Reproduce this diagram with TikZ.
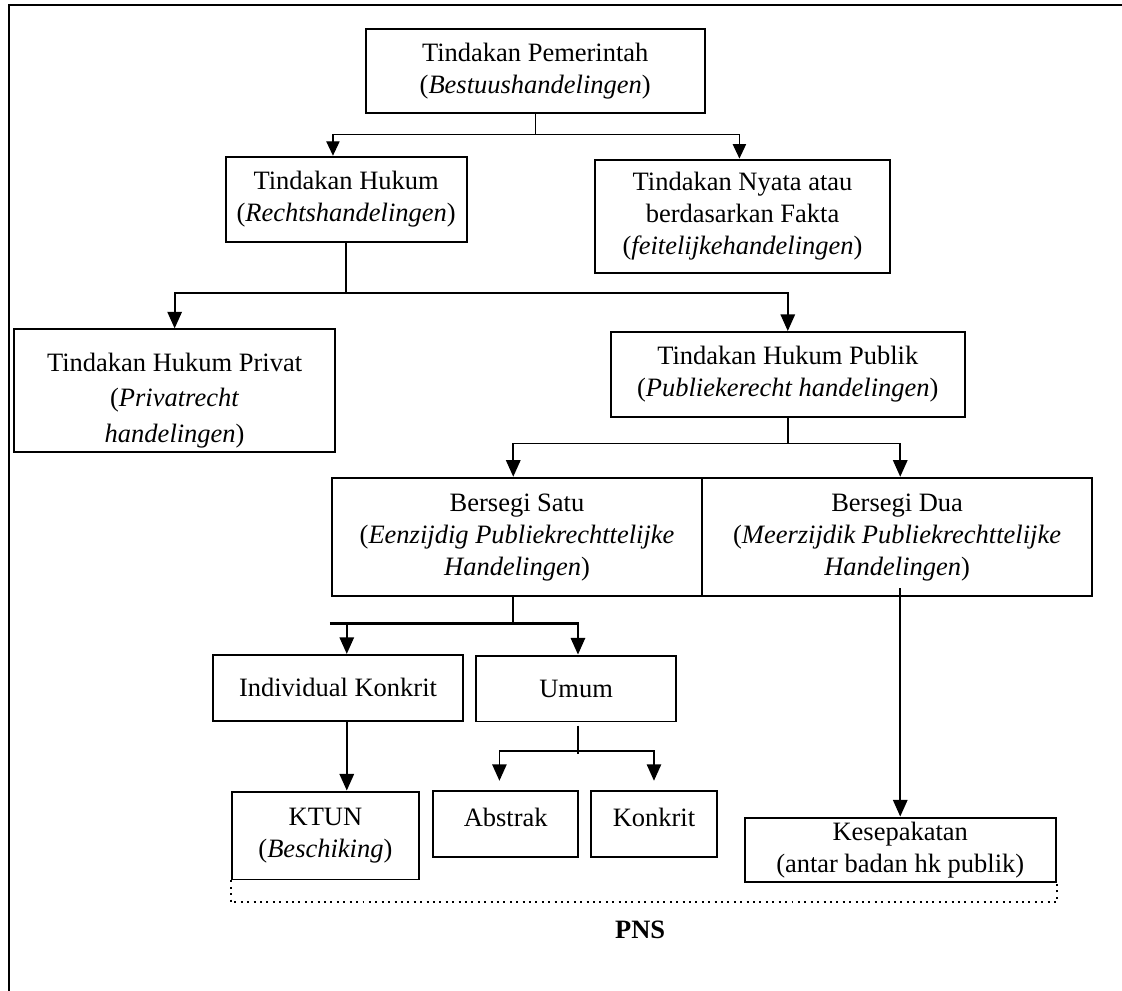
\documentclass[tikz,border=0pt,12pt]{standalone}
\usepackage{fontspec}
\setmainfont{Liberation Serif}
\usepackage{tikz}
\usetikzlibrary{arrows.meta,calc,positioning}

\begin{document}
\begin{tikzpicture}[font=\normalsize,
  box/.style={draw,line width=0.9pt,align=center,inner sep=2pt},
  arrow/.style={-{Triangle[length=7.5pt,width=6.5pt]},line width=0.8pt},
  thin arrow/.style={-{Triangle[length=6.5pt,width=6pt]},line width=0.5pt}]
  \useasboundingbox (0,0) rectangle (17.86,15.77);
  \draw[line width=0.9pt] (0.14,0) -- (0.14,15.69) -- (17.86,15.69);

  % boxes
  \node[box,minimum width=5.40cm,minimum height=1.34cm] (top) at (8.52,14.64)
    {Tindakan Pemerintah\\(\textit{Bestuushandelingen})};
  \node[box,minimum width=3.84cm,minimum height=1.35cm] (hukum) at (5.51,12.60)
    {Tindakan Hukum\\(\textit{Rechtshandelingen})};
  \node[box,minimum width=4.69cm,minimum height=1.80cm] (nyata) at (11.82,12.33)
    {Tindakan Nyata atau\\berdasarkan Fakta\\(\textit{feitelijkehandelingen})};
  \node[box,minimum width=5.11cm,minimum height=1.85cm] (privat) at (2.78,9.55)
    {\rule{0pt}{17pt}Tindakan Hukum Privat\\[1.5pt](\textit{Privatrecht}\\[1.5pt]\textit{handelingen})};
  \node[box,minimum width=5.63cm,minimum height=1.35cm] (publik) at (12.54,9.81)
    {Tindakan Hukum Publik\\(\textit{Publiekerecht handelingen})};
  \node[box,minimum width=5.89cm,minimum height=1.89cm] (satu) at (8.23,7.22)
    {Bersegi Satu\\(\textit{Eenzijdig Publiekrechttelijke}\\\textit{Handelingen})};
  \node[box,minimum width=6.21cm,minimum height=1.89cm] (dua) at (14.28,7.22)
    {Bersegi Dua\\(\textit{Meerzijdik Publiekrechttelijke}\\\textit{Handelingen})};
  \node[box,minimum width=3.98cm,minimum height=1.05cm] (ik) at (5.38,4.82) {Individual Konkrit};
  \node[box,minimum width=3.18cm,minimum height=1.05cm] (umum) at (9.17,4.81) {Umum};
  \node[box,minimum width=2.98cm,minimum height=1.40cm] (ktun) at (5.18,2.47)
    {KTUN\\(\textit{Beschiking})};
  \node[box,minimum width=2.31cm,minimum height=1.05cm] (abstrak) at (8.05,2.66) {Abstrak\\[-9pt]};
  \node[box,minimum width=2.01cm,minimum height=1.05cm] (konkrit) at (10.41,2.66) {Konkrit\\[-9pt]};
  \node[box,minimum width=4.95cm,minimum height=0.95cm] (kesep) at (14.33,2.24)
    {Kesepakatan\\(antar badan hk publik)};
  \node[font=\bfseries] (pns) at (10.19,0.97) {PNS};

  % connectors
  \draw[line width=0.5pt] (top.south) -- ++(0,-0.33) coordinate (j1);
  \draw[thin arrow] (j1) -| ([xshift=-0.21cm]hukum.north);
  \draw[thin arrow] (j1) -| ([xshift=-0.05cm]nyata.north);

  \draw[line width=0.8pt] (hukum.south) -- ++(0,-0.80) coordinate (j2);
  \draw[arrow] (j2) -| (privat.north);
  \draw[arrow] (j2) -| (publik.north);

  \draw[line width=0.8pt] (publik.south) -- ++(0,-0.41) coordinate (j3);
  \draw[arrow] (j3) -| ([xshift=-0.06cm]satu.north);
  \draw[arrow] (j3) -| ([xshift=0.05cm]dua.north);

  \draw[line width=0.8pt] ([xshift=-0.06cm]satu.south) -- ++(0,-0.41) coordinate (j4);
  \draw[line width=1.4pt] ([xshift=-0.13cm]j4 -| ik.north) -- ([xshift=0.05cm]j4 -| umum.north);
  \draw[arrow] ([xshift=0.14cm]j4 -| ik.north) -- ([xshift=0.14cm]ik.north);
  \draw[arrow] ([xshift=0.03cm]j4 -| umum.north) -- ([xshift=0.03cm]umum.north);

  \draw[line width=0.8pt] ([shift={(0.03cm,-0.05cm)}]umum.south) -- ++(0,-0.45) coordinate (j5);
  \draw[arrow,shorten >=0.14cm] ([yshift=0.05cm]j5) -| ([xshift=-0.10cm]abstrak.north);
  \draw[arrow,shorten >=0.14cm] ([yshift=0.05cm]j5) -| (konkrit.north);

  \draw[arrow] ([xshift=0.14cm]ik.south) -- ([xshift=0.14cm]ik.south |- ktun.north);
  \draw[arrow] ([shift={(0.05cm,0.15cm)}]dua.south) -- ([xshift=0.05cm]dua.south |- kesep.north);

  \draw[line width=0.9pt,dotted] (ktun.south west) -- ++(0,-0.35) -| (kesep.south east);
\end{tikzpicture}
\end{document}
